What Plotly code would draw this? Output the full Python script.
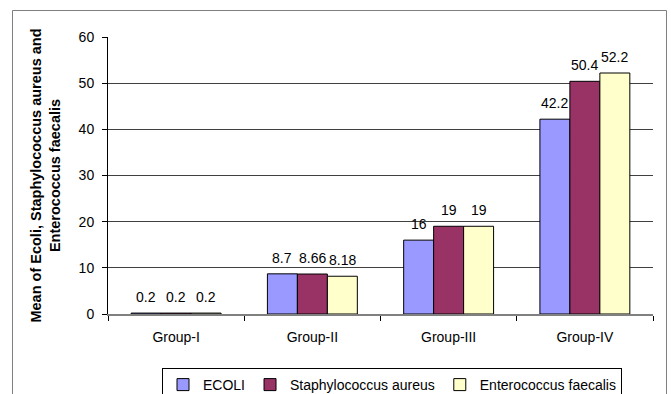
import plotly.graph_objects as go

groups = ["Group-I", "Group-II", "Group-III", "Group-IV"]
ecoli = [0.2, 8.7, 16, 42.2]
staph = [0.2, 8.66, 19, 50.4]
entero = [0.2, 8.18, 19, 52.2]
series_names = ["ECOLI", "Staphylococcus aureus", "Enterococcus faecalis"]
series_colors = ["#9999FF", "#993366", "#FFFFCC"]
series_values = [ecoli, staph, entero]

FONT = "Liberation Sans, Arial, sans-serif"
FS = 14

fig = go.Figure()
for name, vals, col in zip(series_names, series_values, series_colors):
    fig.add_trace(go.Bar(
        x=groups, y=vals, name=name,
        marker=dict(color=col, line=dict(color="#000000", width=1)),
    ))

# data labels
bar_w = 30
for i, vals in enumerate(series_values):
    for g, v in zip(groups, vals):
        fig.add_annotation(
            x=g, y=v, text=str(v), showarrow=False,
            xshift=(i - 1) * bar_w, yshift=6, yanchor="bottom",
            font=dict(family=FONT, size=FS, color="#000000"),
        )

L, R, T, B = 108, 18, 37, 80
W, H = 671, 394
pw, ph = W - L - R, H - T - B

def px_x(px):
    return (px - L) / pw

def px_y(py):
    return (H - B - py) / ph

fig.add_shape(type="rect", xref="paper", yref="paper",
              x0=px_x(12.5), x1=px_x(666.5), y0=px_y(420), y1=px_y(10.5),
              line=dict(color="#808080", width=1), fillcolor="rgba(0,0,0,0)", layer="below")

fig.update_layout(
    width=W, height=H,
    margin=dict(l=L, r=R, t=T, b=B, autoexpand=False),
    paper_bgcolor="white", plot_bgcolor="white",
    barmode="group", bargap=0.34, bargroupgap=0,
    font=dict(family=FONT, size=FS, color="#000000"),
    showlegend=True,
    legend=dict(
        orientation="h", x=px_x(162), xanchor="left", y=px_y(368), yanchor="top",
        bordercolor="#000000", borderwidth=1, bgcolor="white",
        font=dict(family=FONT, size=FS, color="#000000"),
        tracegroupgap=0,
    ),
)
fig.update_yaxes(
    range=[0, 60], dtick=10, showgrid=True, gridcolor="#404040", gridwidth=1,
    showline=True, linecolor="#000000", linewidth=1,
    ticks="outside", ticklen=5, tickcolor="#000000", ticklabelstandoff=5,
    zeroline=False,
    tickfont=dict(family=FONT, size=FS, color="#000000"),
    title=dict(text="<b>Mean of Ecoli, Staphylococcus aureus and<br>Enterococcus faecalis</b>",
               font=dict(family=FONT, size=14.5, color="#000000"), standoff=14),
)
fig.update_xaxes(
    showline=True, linecolor="#808080", linewidth=2,
    ticks="outside", ticklen=5, tickcolor="#000000", tickson="boundaries",
    ticklabelstandoff=9,
    tickfont=dict(family=FONT, size=FS, color="#000000"),
)

fig.write_html("out.html")
